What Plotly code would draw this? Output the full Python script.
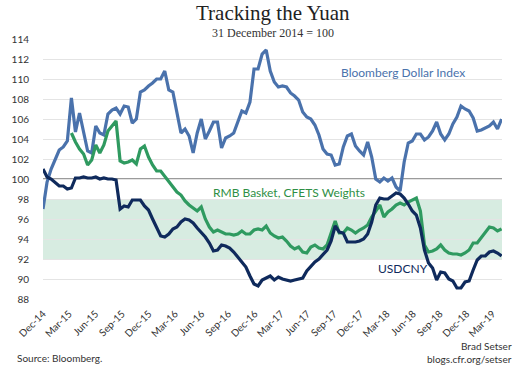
import pandas as pd
import plotly.graph_objects as go

# Bloomberg Dollar Index, USDCNY (inverted) and CFETS basket, 31 Dec 2014 = 100, sampled every two weeks
bloomberg_dollar = [97.0, 99.7, 101.0, 102.0, 102.9, 103.2, 103.8, 108.1, 104.7, 106.6,
                    104.5, 102.8, 102.6, 105.3, 104.6, 104.4, 106.5, 106.9, 107.1, 106.5,
                    107.3, 107.2, 105.6, 106.0, 108.7, 108.9, 109.3, 109.6, 110.0, 110.0,
                    110.8, 108.9, 108.7, 106.7, 104.6, 105.0, 104.3, 102.6, 104.6, 106.0,
                    104.0, 104.8, 105.7, 105.7, 103.1, 104.1, 104.3, 104.6, 105.6, 106.8,
                    106.6, 107.7, 111.0, 111.0, 112.5, 112.9, 110.8, 109.7, 109.2, 109.3,
                    109.2, 108.6, 108.3, 107.9, 106.7, 106.2, 106.0, 105.4, 104.4, 103.0,
                    102.5, 102.4, 101.4, 101.5, 103.2, 104.3, 104.5, 103.3, 102.8, 102.4,
                    103.7, 102.2, 100.0, 99.7, 100.1, 99.8, 100.1, 99.2, 98.8, 101.7,
                    103.6, 103.8, 104.5, 104.5, 103.9, 104.2, 104.8, 105.7, 104.5, 103.9,
                    104.5, 105.5, 106.2, 107.3, 107.0, 106.8, 106.1, 104.8, 104.9, 105.1,
                    105.3, 105.7, 105.0, 106.0]

usdcny = [101.0, 100.2, 100.0, 99.6, 99.3, 99.3, 99.0, 99.1, 100.1, 100.1,
          100.2, 100.1, 100.1, 100.2, 100.0, 100.1, 100.0, 100.0, 99.9, 97.0,
          97.3, 97.2, 97.9, 97.9, 97.9, 97.3, 96.9, 96.0, 95.1, 94.3,
          94.2, 94.5, 95.0, 95.2, 95.7, 96.0, 95.9, 95.6, 95.1, 94.7,
          94.2, 93.6, 92.8, 92.9, 93.4, 93.3, 93.1, 92.7, 92.2, 91.6,
          91.2, 90.3, 89.5, 89.3, 89.9, 90.1, 90.3, 89.9, 90.2, 90.0,
          89.9, 89.8, 89.9, 90.0, 90.1, 90.8, 91.3, 91.7, 92.0, 92.4,
          92.9, 93.8, 95.3, 94.7, 94.6, 93.7, 93.7, 93.7, 93.8, 94.0,
          94.5, 95.7, 97.4, 98.1, 98.0, 98.0, 98.3, 98.6, 98.5, 98.1,
          97.5, 96.8, 96.4, 95.1, 92.9, 91.6, 91.1, 89.9, 90.7, 90.6,
          90.0, 89.8, 89.1, 89.1, 89.7, 89.8, 90.9, 91.9, 92.3, 92.3,
          92.7, 92.8, 92.6, 92.3]

rmb_cfets = [None, None, None, None, None, None, None, 104.6, 103.7, 103.0,
             102.5, 101.4, 101.9, 103.4, 102.6, 103.4, 104.8, 105.3, 105.8, 101.8,
             101.6, 101.7, 101.9, 101.5, 103.0, 103.3, 102.2, 101.4, 100.8, 100.8,
             100.3, 99.8, 99.3, 98.7, 98.4, 97.8, 97.4, 97.1, 96.8, 97.2,
             96.0, 95.2, 94.7, 94.9, 94.7, 94.5, 94.5, 94.4, 94.5, 94.8,
             94.5, 94.5, 94.9, 95.0, 94.9, 95.3, 94.6, 94.3, 94.1, 94.2,
             93.8, 93.3, 93.0, 93.2, 92.7, 92.6, 93.2, 93.4, 93.1, 93.0,
             93.4, 94.5, 95.8, 94.6, 94.6, 95.1, 94.9, 94.6, 94.9, 95.1,
             95.4, 96.2, 96.8, 97.4, 96.2, 96.7, 97.0, 97.4, 97.6, 97.4,
             97.7, 97.9, 98.1, 96.8, 93.4, 92.7, 92.8, 93.0, 93.4, 92.9,
             92.6, 92.5, 92.5, 92.4, 92.6, 92.9, 93.6, 93.6, 94.1, 94.7,
             95.2, 95.1, 94.8, 95.0]

dates = pd.date_range(start="2014-12-31", periods=len(usdcny), freq="14D")

tick_dates = ["2014-12-31", "2015-03-31", "2015-06-30", "2015-09-30", "2015-12-31",
              "2016-03-31", "2016-06-30", "2016-09-30", "2016-12-31", "2017-03-31",
              "2017-06-30", "2017-09-30", "2017-12-31", "2018-03-31", "2018-06-30",
              "2018-09-30", "2018-12-31", "2019-03-31"]
tick_labels = ["Dec-14", "Mar-15", "Jun-15", "Sep-15", "Dec-15", "Mar-16", "Jun-16",
               "Sep-16", "Dec-16", "Mar-17", "Jun-17", "Sep-17", "Dec-17", "Mar-18",
               "Jun-18", "Sep-18", "Dec-18", "Mar-19"]
y_ticks = [88, 90, 92, 94, 96, 98, 100, 102, 104, 106, 108, 110, 112, 114]

band_low, band_high, base_level = 92, 98, 100

BLUE = "#4a72ac"
GREEN = "#2f9a60"
NAVY = "#0f2a5c"
SANS = "Lato, 'Open Sans', sans-serif"
SERIF = "'Liberation Serif', 'DejaVu Serif', serif"

fig = go.Figure()
fig.add_trace(go.Scatter(x=dates, y=bloomberg_dollar, mode="lines",
                         line=dict(color=BLUE, width=3.2), name="Bloomberg Dollar Index"))
fig.add_trace(go.Scatter(x=dates, y=rmb_cfets, mode="lines",
                         line=dict(color=GREEN, width=3.2), name="RMB Basket, CFETS Weights"))
fig.add_trace(go.Scatter(x=dates, y=usdcny, mode="lines",
                         line=dict(color=NAVY, width=3.2), name="USDCNY"))

fig.add_shape(type="rect", xref="paper", x0=0, x1=1, yref="y", y0=band_low, y1=band_high,
              fillcolor="#d7ece1", line=dict(width=0), layer="below")
fig.add_shape(type="line", xref="paper", x0=0, x1=1, yref="y", y0=base_level, y1=base_level,
              line=dict(color="#7a7a7a", width=1.3), layer="below")

annotations = [
    dict(text="Tracking the Yuan", x=0.5, y=1.1, font=dict(family=SERIF, size=21, color="#222")),
    dict(text="31 December 2014 = 100", x=0.5, y=1.024, font=dict(family=SERIF, size=12, color="#333")),
    dict(text="Bloomberg Dollar Index", x=0.784, y=0.873, font=dict(family=SANS, size=12, color=BLUE)),
    dict(text="RMB Basket, CFETS Weights", x=0.537, y=0.408, font=dict(family=SANS, size=12, color="#2f8f45")),
    dict(text="USDCNY", x=0.784, y=0.119, font=dict(family=SANS, size=12, color=NAVY)),
]
for a in annotations:
    fig.add_annotation(xref="paper", yref="paper", showarrow=False, xanchor="center",
                       yanchor="middle", **a)

fig.add_annotation(text="Source: Bloomberg.", xref="paper", yref="paper", x=-0.062, y=-0.225,
                   xanchor="left", yanchor="middle", showarrow=False,
                   font=dict(family=SANS, size=10, color="#333"))
fig.add_annotation(text="Brad Setser", xref="paper", yref="paper", x=1.026, y=-0.18,
                   xanchor="right", yanchor="middle", showarrow=False,
                   font=dict(family=SANS, size=10, color="#333"))
fig.add_annotation(text="blogs.cfr.org/setser", xref="paper", yref="paper", x=1.026, y=-0.23,
                   xanchor="right", yanchor="middle", showarrow=False,
                   font=dict(family=SANS, size=10, color="#333"))

fig.update_layout(
    width=520, height=374,
    margin=dict(l=34, r=18, t=39, b=75),
    paper_bgcolor="white", plot_bgcolor="white",
    showlegend=False,
)
fig.update_xaxes(
    type="date", range=["2014-12-31", "2019-05-02 12:00"],
    tickvals=tick_dates, ticktext=tick_labels, tickangle=-45,
    ticks="outside", ticklen=4, tickcolor="rgba(0,0,0,0)",
    showgrid=False, zeroline=False, showline=False,
    tickfont=dict(family=SANS, size=10, color="#333"),
)
fig.update_yaxes(
    range=[88, 114], tickvals=y_ticks,
    ticks="outside", ticklen=11, tickcolor="rgba(0,0,0,0)",
    showgrid=True, gridcolor="#e4e4e4", gridwidth=1,
    zeroline=False, showline=False,
    tickfont=dict(family=SANS, size=10, color="#333"),
)

fig.write_html("out.html", config={"displayModeBar": False},
               post_script="document.body.style.margin='0px';")
